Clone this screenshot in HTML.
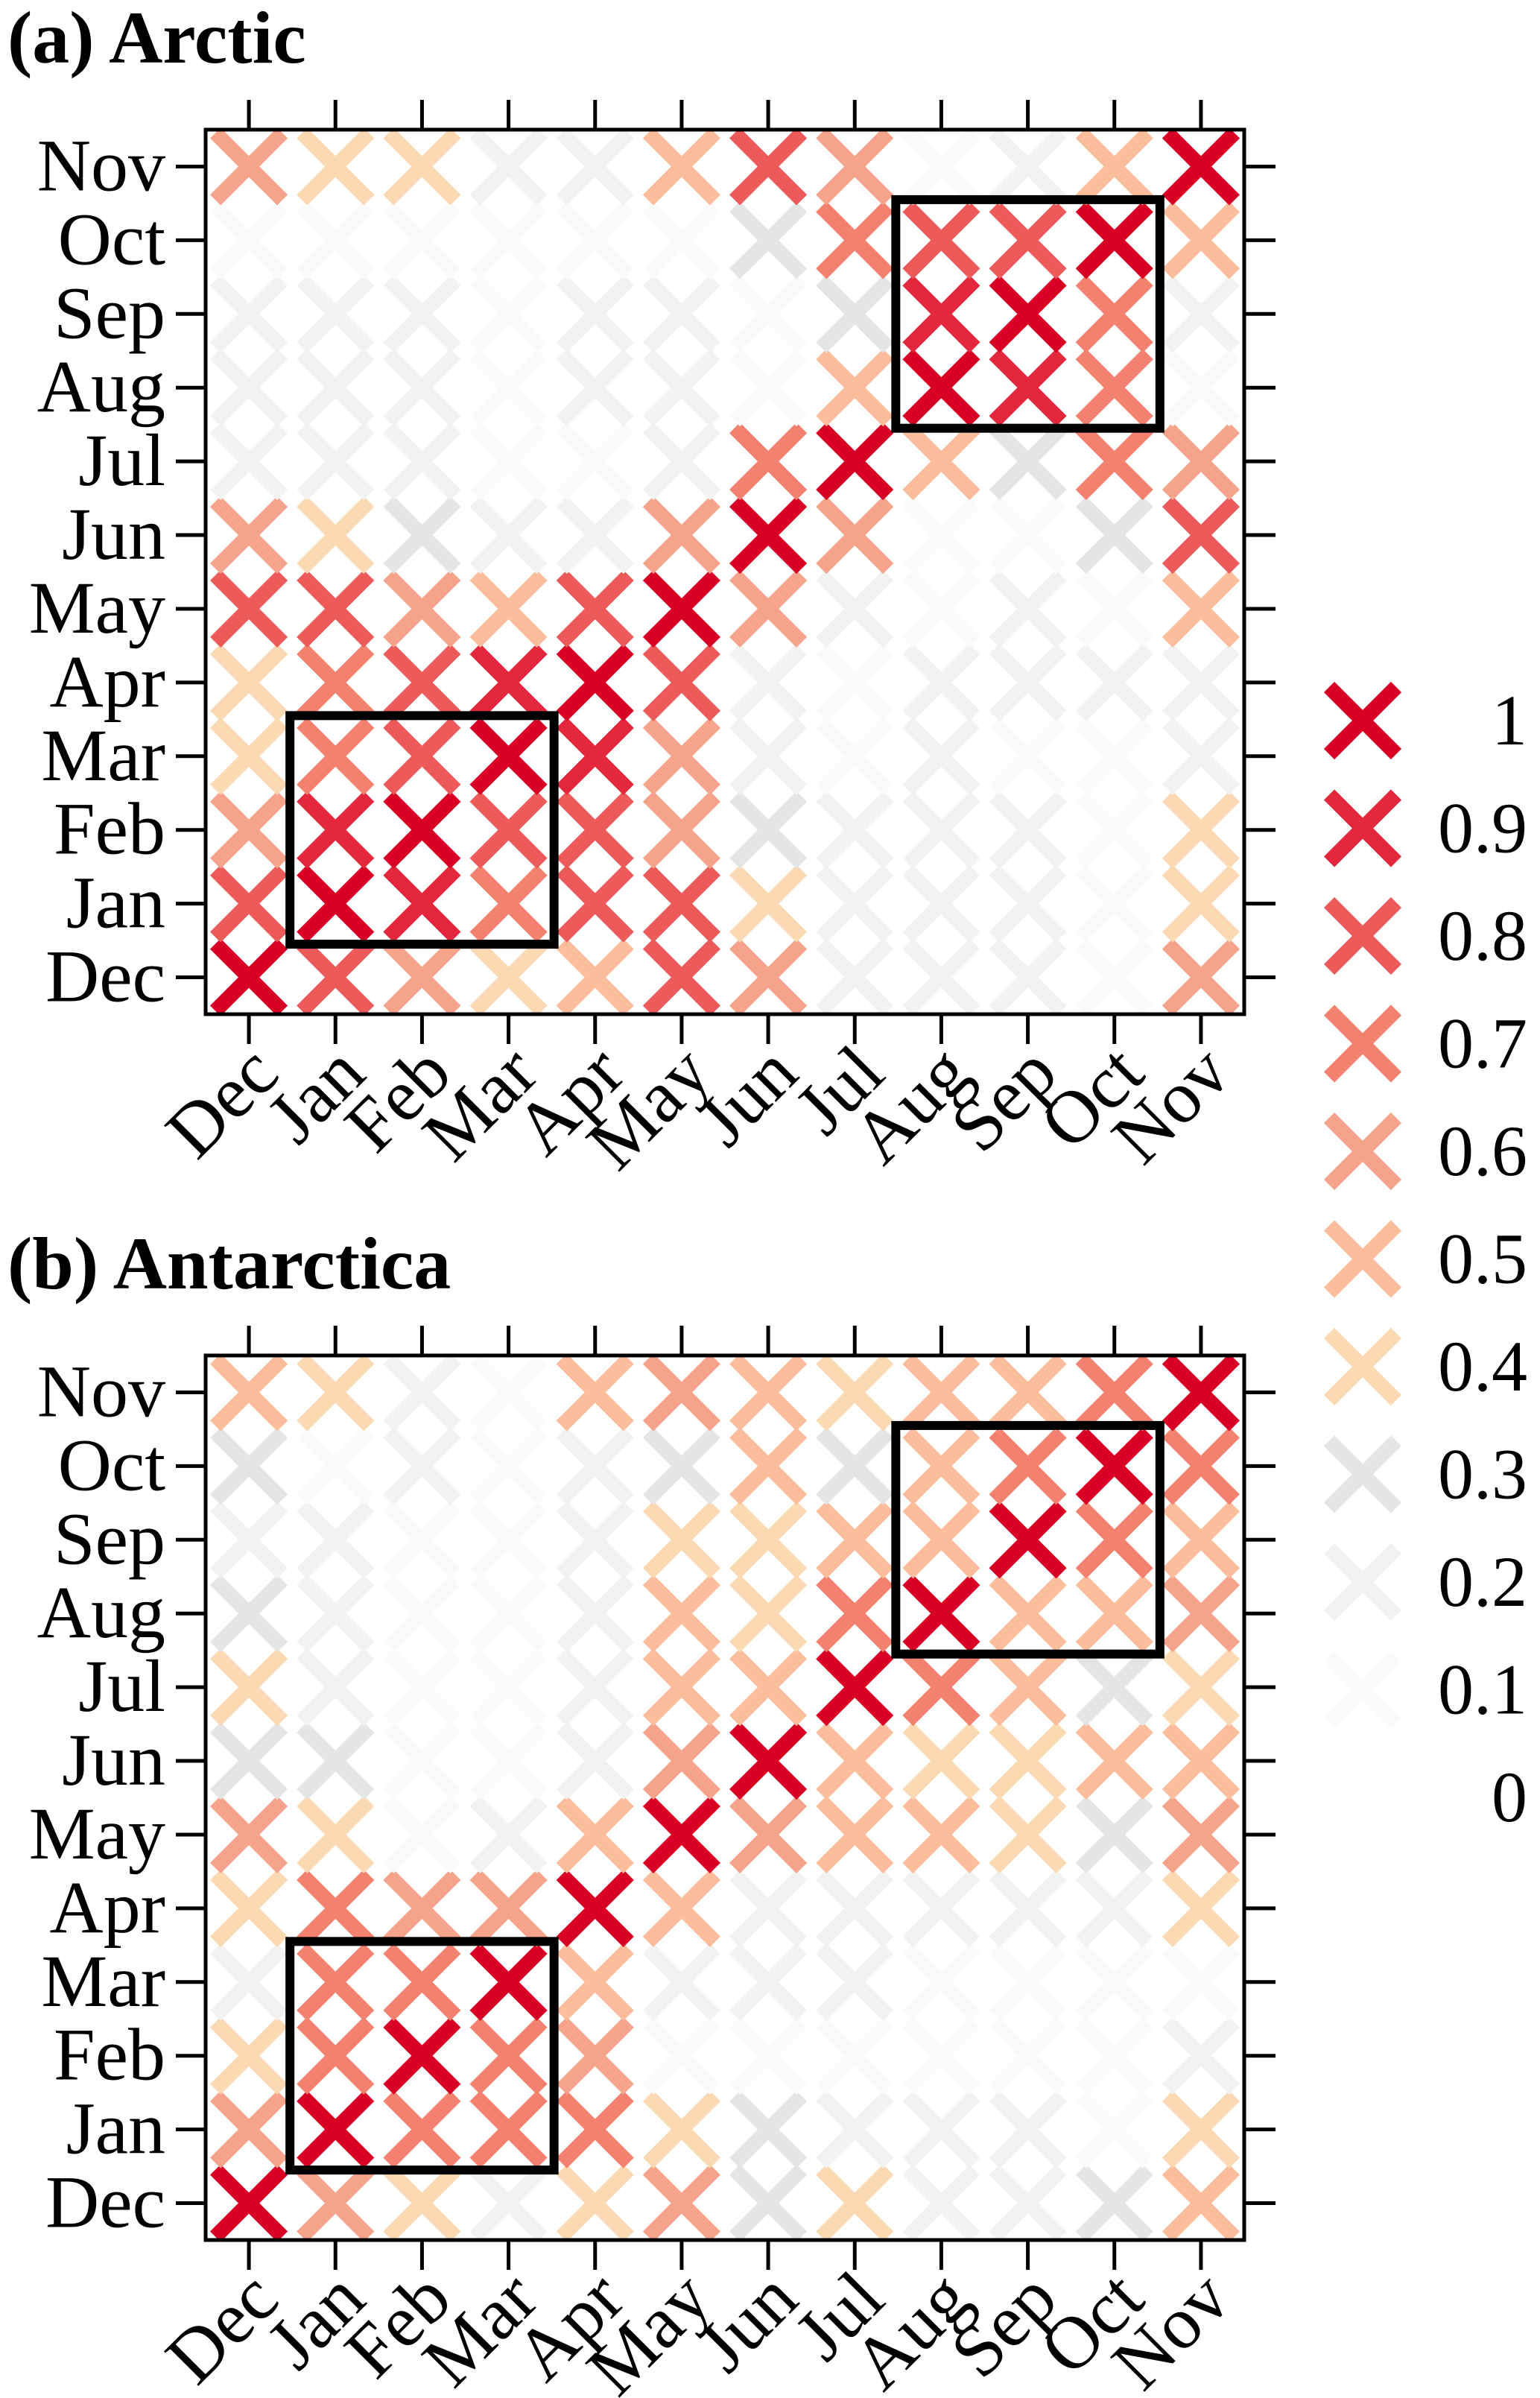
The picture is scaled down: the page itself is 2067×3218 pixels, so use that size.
<!DOCTYPE html>
<html><head><meta charset="utf-8"><style>
html,body{margin:0;padding:0;background:#fff;}
svg{display:block;font-family:"Liberation Serif",serif;}
</style></head><body>
<svg id="fig" xmlns="http://www.w3.org/2000/svg" width="2067" height="3218" viewBox="0 0 2067 3218"></svg>
<script>
const months = ["Dec","Jan","Feb","Mar","Apr","May","Jun","Jul","Aug","Sep","Oct","Nov"];
const legendValues = [1,0.9,0.8,0.7,0.6,0.5,0.4,0.3,0.2,0.1,0];
const legendLabels = ["1","0.9","0.8","0.7","0.6","0.5","0.4","0.3","0.2","0.1","0"];
// rows listed Dec..Nov (bottom to top), columns Dec..Nov
const arcticValues = [
 [1,0.8,0.6,0.4,0.5,0.8,0.6,0.2,0.2,0.2,0.1,0.6],
 [0.8,1,0.9,0.7,0.8,0.8,0.4,0.2,0.2,0.2,0.1,0.4],
 [0.6,0.9,1,0.8,0.8,0.6,0.3,0.2,0.2,0.2,0.1,0.4],
 [0.4,0.7,0.8,1,0.9,0.6,0.2,0.1,0.2,0.1,0.1,0.2],
 [0.4,0.7,0.8,0.9,1,0.8,0.2,0.1,0.2,0.2,0.2,0.2],
 [0.8,0.8,0.6,0.5,0.8,1,0.6,0.2,0.1,0.2,0.1,0.5],
 [0.6,0.4,0.3,0.2,0.2,0.6,1,0.6,0.1,0.1,0.3,0.8],
 [0.2,0.2,0.2,0.1,0.1,0.2,0.7,1,0.5,0.3,0.7,0.6],
 [0.2,0.2,0.2,0.1,0.2,0.2,0.1,0.5,1,0.9,0.7,0.1],
 [0.2,0.2,0.2,0.1,0.2,0.2,0.1,0.3,0.9,1,0.7,0.2],
 [0.1,0.1,0.1,0.1,0.1,0.1,0.3,0.7,0.8,0.8,1,0.5],
 [0.6,0.4,0.4,0.2,0.2,0.5,0.8,0.6,0.1,0.2,0.5,1]
];
const antarcticValues = [
 [1,0.6,0.4,0.2,0.4,0.6,0.3,0.4,0.2,0.2,0.3,0.5],
 [0.6,1,0.7,0.7,0.7,0.4,0.3,0.2,0.2,0.2,0.1,0.4],
 [0.4,0.7,1,0.7,0.6,0.1,0.1,0.1,0.1,0.1,0.1,0.2],
 [0.2,0.7,0.7,1,0.5,0.2,0.2,0.2,0.1,0.1,0.1,0.1],
 [0.4,0.7,0.6,0.6,1,0.5,0.2,0.2,0.2,0.2,0.2,0.4],
 [0.6,0.4,0.1,0.2,0.5,1,0.6,0.5,0.5,0.4,0.3,0.6],
 [0.3,0.3,0.1,0.1,0.2,0.6,1,0.5,0.4,0.4,0.5,0.5],
 [0.4,0.2,0.1,0.1,0.2,0.5,0.5,1,0.7,0.5,0.3,0.4],
 [0.3,0.2,0.1,0.1,0.2,0.5,0.4,0.7,1,0.5,0.5,0.6],
 [0.2,0.2,0.1,0.1,0.2,0.4,0.4,0.5,0.5,1,0.7,0.5],
 [0.3,0.1,0.2,0.1,0.2,0.3,0.5,0.3,0.5,0.7,1,0.7],
 [0.5,0.4,0.2,0.1,0.5,0.6,0.5,0.4,0.5,0.5,0.7,1]
];
// highlight boxes: [firstCol,lastCol,firstRow,lastRow] (indices into months)
const highlightBoxes = [[1,3,1,3],[8,10,8,10]];

const NS="http://www.w3.org/2000/svg";
const svg=document.getElementById('fig');
function mk(tag,attrs,parent){const e=document.createElementNS(NS,tag);for(const k in attrs)e.setAttribute(k,attrs[k]);(parent||svg).appendChild(e);return e;}
function colorFor(v){
  const r=Math.round(v*10);
  return ["#ffffff","#fafafa","#f2f2f2","#e4e5e5","#fbd9b3","#fbbd9c","#f5a38a","#f2826f","#ec5a5a","#e3283e","#d90026"][r];
}
const L=276,R=1670,cw=(R-L)/12;
function xs(i){return L+cw*(i+0.5);}
function drawX(g,cx,cy,col,name){
  const s=45;
  const grp=mk('g',{},g);
  
  
  mk('line',{x1:cx-s,y1:cy-s,x2:cx+s,y2:cy+s,stroke:col,'stroke-width':20},grp);
  mk('line',{x1:cx-s,y1:cy+s,x2:cx+s,y2:cy-s,stroke:col,'stroke-width':20},grp);
}
function panel(id,title,titleY,top,bottom,values){
  const g=mk('g',{});
  
  
  const rh=(bottom-top)/12;
  const ys=i=>bottom-rh*(i+0.5);
  const t=mk('text',{x:10,y:titleY,'font-size':100,'font-weight':'bold'},g);
  t.textContent=title;
  
  
  for(let r=0;r<12;r++)for(let c=0;c<12;c++){
    const v=values[r][c];
    if(Math.round(v*10)===0)continue;
    drawX(g,xs(c),ys(r),colorFor(v),'marker-'+months[r].toLowerCase()+'-'+months[c].toLowerCase());
  }
  for(const b of highlightBoxes){
    const x1=xs(b[0])-cw*0.5-3,x2=xs(b[1])+cw*0.5+3,y1=ys(b[3])-rh*0.5-5,y2=ys(b[2])+rh*0.5+5;
    const rc=mk('rect',{x:x1,y:y1,width:x2-x1,height:y2-y1,fill:'none',stroke:'#000','stroke-width':12},g);
    
    
  }
  const fr=mk('rect',{x:L,y:top,width:R-L,height:bottom-top,fill:'none',stroke:'#000','stroke-width':5},g);
  
  
  for(let i=0;i<12;i++){
    mk('line',{x1:xs(i),y1:bottom,x2:xs(i),y2:bottom+40,stroke:'#000','stroke-width':5},g);
    mk('line',{x1:xs(i),y1:top,x2:xs(i),y2:top-40,stroke:'#000','stroke-width':5},g);
    mk('line',{x1:L,y1:ys(i),x2:L-40,y2:ys(i),stroke:'#000','stroke-width':5},g);
    mk('line',{x1:R,y1:ys(i),x2:R+42,y2:ys(i),stroke:'#000','stroke-width':5},g);
    const yl=mk('text',{x:222,y:ys(i)+32,'font-size':100,'text-anchor':'end'},g);
    yl.textContent=months[i];
    
    
    const ax=xs(i)+44,ay=bottom+84;
    const xl=mk('text',{x:ax,y:ay,'font-size':100,'text-anchor':'end',transform:'rotate(-45 '+ax+' '+ay+')'},g);
    xl.textContent=months[i];
    
    
  }
}
panel('arctic','(a) Arctic',84,174,1361,arcticValues);
panel('antarctica','(b) Antarctica',1729,1819,3006,antarcticValues);
const lg=mk('g',{});


legendValues.forEach((v,i)=>{
  const cy=967+i*144.5;
  if(Math.round(v*10)>0)drawX(lg,1829,cy,colorFor(v),'legend-marker');
  const t=mk('text',{x:2050,y:cy+32,'font-size':96,'text-anchor':'end'},lg);
  t.textContent=legendLabels[i];
  
  
});
</script>
</body></html>
